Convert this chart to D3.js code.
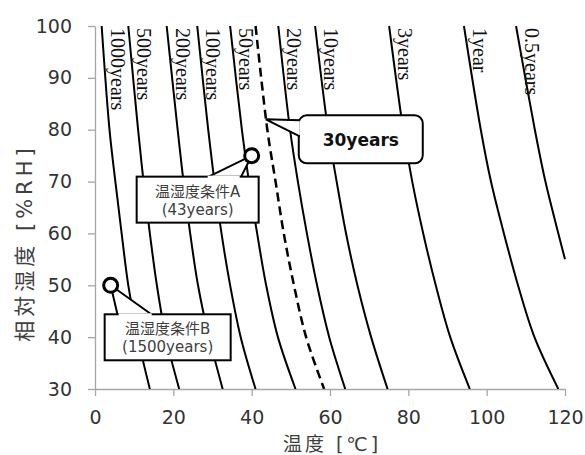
<!DOCTYPE html>
<html>
<head>
<meta charset="utf-8">
<script src="https://cdnjs.cloudflare.com/ajax/libs/d3/7.8.5/d3.min.js"></script>
<style>
  body { margin: 0; background: #fff; }
  svg { display: block; }
</style>
</head>
<body>
<div id="chart"></div>
<script>
  // relative humidity levels at which each life curve was read
  var rhLevels = [100, 80, 70, 60, 50, 40, 30];
  // the 0.5years curve leaves the plot at 120 degC
  var halfYearRh = [100, 80, 70, 60, 55];

  var curveLabels = ["1000years", "500years", "200years", "100years", "50years",
                     "30years", "20years", "10years", "3years", "1year", "0.5years"];
  // temperature [degC] of each curve at the rh levels above
  var curveTemps = [
    [1.7, 3.7, 5.2, 6.8, 8.5, 10.9, 14.0],
    [8.5, 11.0, 12.4, 14.0, 15.8, 18.1, 21.5],
    [18.3, 21.1, 22.6, 24.3, 26.3, 29.1, 32.6],
    [26.1, 28.9, 30.5, 32.3, 34.5, 37.2, 41.0],
    [34.5, 37.5, 39.3, 41.4, 43.7, 46.7, 51.2],
    [41.0, 44.0, 46.1, 48.2, 50.8, 53.9, 58.5],
    [46.8, 49.8, 51.8, 54.1, 56.7, 59.8, 63.9],
    [56.2, 59.5, 61.7, 64.1, 67.0, 70.5, 74.7],
    [75.1, 78.7, 81.0, 83.8, 87.0, 90.7, 95.7],
    [94.2, 98.5, 101.1, 104.4, 108.0, 112.2, 118.3],
    [107.5, 112.3, 115.0, 118.3, 120.0]
  ];
  var dashedCurve = "30years";
  var dashedCallout = {label: "30years", temp: 43.6, rh: 82};

  var conditionNames = ["温湿度条件A", "温湿度条件B"];
  var conditionLives = ["(43years)", "(1500years)"];
  var conditionTemp = [40, 4];
  var conditionRh = [75, 50];

  var xTicks = [0, 20, 40, 60, 80, 100, 120];
  var yTicks = [30, 40, 50, 60, 70, 80, 90, 100];

  var width = 585, height = 455;
  var margin = {top: 26, right: 20, bottom: 66, left: 95};

  var svg = d3.select("#chart").append("svg")
    .attr("width", width)
    .attr("height", height);

  var x = d3.scaleLinear().domain([0, 120]).range([margin.left, width - margin.right]);
  var y = d3.scaleLinear().domain([30, 100]).range([height - margin.bottom, margin.top]);

  var tickFont = "'DejaVu Sans', Verdana, sans-serif";
  var jpFont = "'DejaVu Sans', 'Noto Sans CJK JP', sans-serif";

  // axes
  var xAxis = svg.append("g")
    .attr("transform", "translate(0," + y(30) + ")")
    .call(d3.axisBottom(x).tickValues(xTicks).tickSize(7).tickSizeOuter(0).tickPadding(15));
  var yAxis = svg.append("g")
    .attr("transform", "translate(" + x(0) + ",0)")
    .call(d3.axisLeft(y).tickValues(yTicks).tickSize(7).tickSizeOuter(0).tickPadding(16));

  [xAxis, yAxis].forEach(function(g) {
    g.selectAll("path, line").attr("stroke", "#a6a6a6").attr("stroke-width", 1.3);
    g.selectAll("text")
      .attr("font-family", tickFont)
      .attr("font-size", "19px")
      .attr("fill", "#333");
  });

  svg.append("text")
    .attr("x", (x(0) + x(120)) / 2 + 2)
    .attr("y", 451)
    .attr("text-anchor", "middle")
    .attr("font-family", jpFont)
    .attr("font-size", "19px")
    .attr("letter-spacing", "3px")
    .attr("fill", "#404040")
    .text("温度 [℃]");

  svg.append("text")
    .attr("transform", "translate(25,243) rotate(-90)")
    .attr("text-anchor", "middle")
    .attr("dominant-baseline", "central")
    .attr("font-family", jpFont)
    .attr("font-size", "21px")
    .attr("letter-spacing", "4px")
    .attr("fill", "#404040")
    .text("相対湿度 [%RH]");

  // life curves
  svg.append("clipPath").attr("id", "plotClip")
    .append("rect")
    .attr("x", x(0)).attr("y", y(100) - 2)
    .attr("width", x(120) - x(0) + 1).attr("height", y(30) - y(100) + 2);

  var line = d3.line()
    .x(function(d) { return x(d.t); })
    .y(function(d) { return y(d.rh); })
    .curve(d3.curveCatmullRom);

  var curves = curveLabels.map(function(name, i) {
    var levels = curveTemps[i].length === rhLevels.length ? rhLevels : halfYearRh;
    return {
      name: name,
      points: curveTemps[i].map(function(t, j) { return {t: t, rh: levels[j]}; })
    };
  });

  var curveLayer = svg.append("g").attr("clip-path", "url(#plotClip)");
  curves.forEach(function(c) {
    var dashed = c.name === dashedCurve;
    curveLayer.append("path")
      .attr("d", line(c.points))
      .attr("fill", "none")
      .attr("stroke", "#000")
      .attr("stroke-width", dashed ? 2.5 : 2)
      .attr("stroke-dasharray", dashed ? "9,5" : null);
  });

  // vertical curve labels next to the top of each line
  curves.forEach(function(c) {
    if (c.name === dashedCurve) { return; }
    svg.append("text")
      .attr("transform", "translate(" + (x(c.points[0].t) + 9) + "," + (y(100) + 2) + ") rotate(90)")
      .attr("font-family", "'Liberation Serif', 'Times New Roman', serif")
      .attr("font-size", "20px")
      .attr("fill", "#111")
      .text(c.name);
  });

  // 30years callout
  var tipX = x(dashedCallout.temp), tipY = y(dashedCallout.rh);
  var bx = tipX + 33, by = tipY - 4, bw = 124, bh = 48;
  svg.append("rect")
    .attr("x", bx).attr("y", by)
    .attr("width", bw).attr("height", bh)
    .attr("rx", 8).attr("ry", 8)
    .attr("fill", "#fff").attr("stroke", "#000").attr("stroke-width", 2);
  svg.append("path")
    .attr("d", "M" + (bx + 1) + "," + (by + 5) + "L" + tipX + "," + tipY + "L" + (bx + 1) + "," + (by + 21))
    .attr("fill", "#fff").attr("stroke", "#000").attr("stroke-width", 2);
  svg.append("rect")
    .attr("x", bx + 2).attr("y", by + 4)
    .attr("width", 6).attr("height", 18)
    .attr("fill", "#fff");
  svg.append("text")
    .attr("x", bx + bw / 2).attr("y", by + 31)
    .attr("text-anchor", "middle")
    .attr("font-family", tickFont)
    .attr("font-weight", "bold")
    .attr("font-size", "17px")
    .attr("fill", "#111")
    .text(dashedCallout.label);

  // temperature / humidity conditions with callouts
  var boxOffsets = [
    {dx: -115, dy: 21, w: 122, h: 46, p0: 70, p1: 104},
    {dx: -6, dy: 29, w: 126, h: 46, p0: 13, p1: 48}
  ];
  conditionNames.forEach(function(name, i) {
    var cx = x(conditionTemp[i]), cy = y(conditionRh[i]);
    var o = boxOffsets[i];
    var left = cx + o.dx, top = cy + o.dy;
    svg.append("path")
      .attr("d", "M" + (left + o.p0) + "," + (top + 1) + "L" + cx + "," + cy + "L" + (left + o.p1) + "," + (top + 1))
      .attr("fill", "#fff").attr("stroke", "#000").attr("stroke-width", 2);
    svg.append("rect")
      .attr("x", left).attr("y", top)
      .attr("width", o.w).attr("height", o.h)
      .attr("fill", "#fff").attr("stroke", "#000").attr("stroke-width", 2);
    svg.append("rect")
      .attr("x", left + o.p0 + 1).attr("y", top - 1)
      .attr("width", o.p1 - o.p0 - 2).attr("height", 3)
      .attr("fill", "#fff");
    svg.append("text")
      .attr("x", left + o.w / 2).attr("y", top + 20)
      .attr("text-anchor", "middle")
      .attr("font-family", jpFont)
      .attr("font-size", "15px")
      .attr("fill", "#404040")
      .text(name);
    svg.append("text")
      .attr("x", left + o.w / 2).attr("y", top + 38)
      .attr("text-anchor", "middle")
      .attr("font-family", jpFont)
      .attr("font-size", "15px")
      .attr("fill", "#404040")
      .text(conditionLives[i]);
    svg.append("circle")
      .attr("cx", cx).attr("cy", cy).attr("r", 7)
      .attr("fill", "#fff").attr("stroke", "#000").attr("stroke-width", 3);
  });
</script>
</body>
</html>
